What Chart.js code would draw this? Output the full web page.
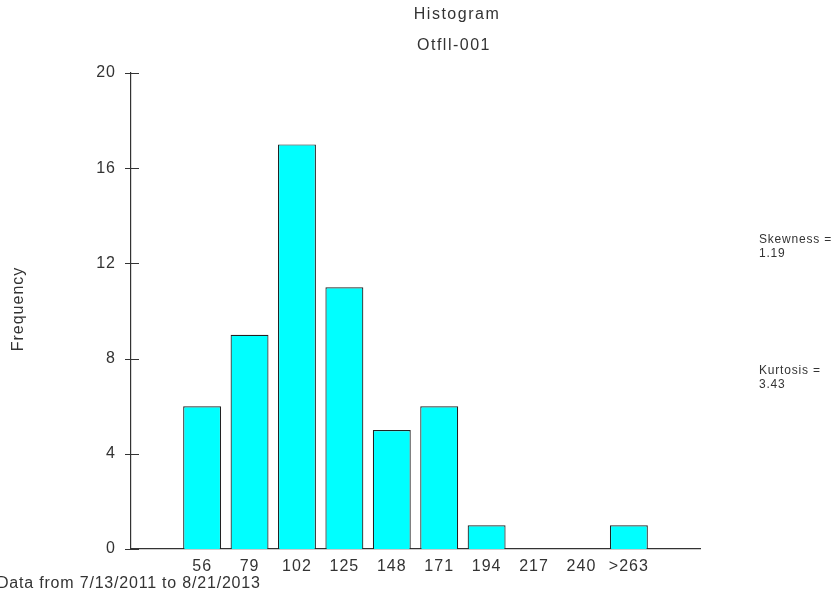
<!DOCTYPE html>
<html>
<head>
<meta charset="utf-8">
<script src="https://cdn.jsdelivr.net/npm/chart.js@4/dist/chart.umd.min.js"></script>
<style>
  html, body { margin: 0; padding: 0; background: #fff; }
  #wrap { width: 832px; height: 597px; position: relative; }
</style>
</head>
<body>
<div id="wrap"><canvas id="histChart" width="832" height="597"></canvas></div>
<script>
// Categorias (con una vacia a cada lado, como en el original)
const binLabels = ['', '56', '79', '102', '125', '148', '171', '194', '217', '240', '>263', ''];
const frequencies = [null, 6, 9, 17, 11, 5, 6, 1, 0, 0, 1, null];
const yTicks = [0, 4, 8, 12, 16, 20];

const textColor = '#333333';
const fontFamily = '"Liberation Sans", Arial, sans-serif';

// Espaciado de letras para todo el texto del canvas
const spacingPlugin = {
    id: 'spacing',
    beforeDraw(chart) {
        chart.ctx.letterSpacing = '1px';
    }
};

// Textos alrededor del grafico y marcas del eje Y
const decorPlugin = {
    id: 'decor',
    afterDraw(chart) {
        const ctx = chart.ctx;
        const y = chart.scales.y;
        const area = chart.chartArea;
        ctx.save();

        // marcas que cruzan el eje Y
        ctx.strokeStyle = '#333';
        ctx.lineWidth = 1;
        yTicks.forEach(v => {
            const py = Math.round(y.getPixelForValue(v)) + 0.5;
            ctx.beginPath();
            ctx.moveTo(area.left - 6, py);
            ctx.lineTo(area.left + 8, py);
            ctx.stroke();
        });

        ctx.fillStyle = textColor;
        ctx.textBaseline = 'middle';
        ctx.textAlign = 'center';
        ctx.letterSpacing = '1.5px';
        ctx.font = '16px ' + fontFamily;
        ctx.fillText('Histogram', 457, 15);
        ctx.fillText('Otfll-001', 454, 46);

        ctx.letterSpacing = '0.8px';
        ctx.textAlign = 'left';
        ctx.fillText('Data from 7/13/2011 to 8/21/2013', -3, 584);

        ctx.font = '12px ' + fontFamily;
        ctx.fillText('Skewness =', 759, 240);
        ctx.fillText('1.19', 759, 254);
        ctx.fillText('Kurtosis =', 759, 371);
        ctx.fillText('3.43', 759, 385);

        ctx.letterSpacing = '1px';
        ctx.font = '16px ' + fontFamily;
        ctx.translate(19, 309);
        ctx.rotate(-Math.PI / 2);
        ctx.textAlign = 'center';
        ctx.fillText('Frequency', 0, 0);
        ctx.restore();
    }
};

new Chart(document.getElementById('histChart'), {
    type: 'bar',
    data: {
        labels: binLabels,
        datasets: [{
            data: frequencies,
            backgroundColor: '#00FFFF',
            borderColor: '#222222',
            borderWidth: 1.2,
            barPercentage: 0.8,
            categoryPercentage: 1.0
        }]
    },
    options: {
        responsive: false,
        animation: false,
        layout: { padding: { left: 0, right: 132, top: 73, bottom: 0 } },
        plugins: {
            legend: { display: false },
            tooltip: { enabled: false }
        },
        scales: {
            x: {
                grid: { display: false, drawTicks: false },
                border: { display: true, color: '#333', width: 1.2 },
                ticks: {
                    color: textColor,
                    font: { family: fontFamily, size: 16 },
                    padding: 8,
                    maxRotation: 0,
                    autoSkip: false
                },
                afterFit(scale) { scale.height = 48; }
            },
            y: {
                min: 0,
                max: 20,
                grid: { display: false, drawTicks: false },
                border: { display: true, color: '#333', width: 1.2 },
                ticks: {
                    stepSize: 4,
                    color: textColor,
                    font: { family: fontFamily, size: 16 },
                    padding: 15
                },
                afterFit(scale) { scale.width = 131; }
            }
        }
    },
    plugins: [spacingPlugin, decorPlugin]
});
</script>
</body>
</html>
